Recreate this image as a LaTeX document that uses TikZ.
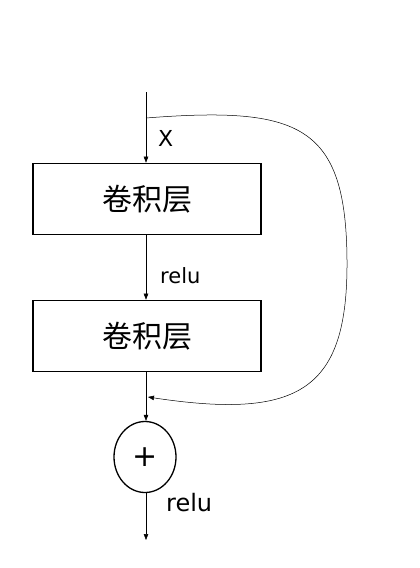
\documentclass[tikz,border=0pt]{standalone}
\usepackage{fontspec}
\setmainfont{DejaVu Sans}
\newfontfamily\cjk{Noto Sans CJK SC}
\usetikzlibrary{arrows.meta,shapes.geometric}
\begin{document}
\begin{tikzpicture}[x=1pt,y=-1pt,
  layer/.style={draw,line width=1.6pt,minimum width=228pt,minimum height=71pt,inner sep=0pt,font=\cjk\fontsize{30}{30}\selectfont},
  addnode/.style={draw,ellipse,line width=1.3pt,minimum width=62pt,minimum height=71pt,inner sep=0pt,font=\fontsize{30}{30}\selectfont},
  conn/.style={line width=0.5pt,-{Triangle[length=6pt,width=4.5pt]}},
  lbl/.style={anchor=west,inner sep=0pt,font=\fontsize{21}{21}\selectfont}]
\useasboundingbox (0,0) rectangle (420,568);
\coordinate (in) at (146,92);
\coordinate (split) at (146,118);
\node[layer] (c1) at (147,199) {卷积层};
\node[layer] (c2) at (147,336) {卷积层};
\coordinate (join) at (146,397);
\node[addnode] (add) at (145,457) {+};
\coordinate (out) at (146,540);
\draw[conn] (in) -- (c1.north -| in);
\draw[conn] (c1.south -| in) -- (c2.north -| in);
\draw[conn] (c2.south -| in) -- (add.north -| in);
\draw[conn] (add.south -| in) -- (out);
\draw[conn] (split) .. controls (300,106) and (346,125) .. (347,260)
  .. controls (348,390) and (300,420) .. ([xshift=2pt]join);
\node[lbl,font=\fontsize{22}{22}\selectfont] (x) at (158,138) {X};
\node[lbl] (r1) at (160,276) {relu};
\node[lbl,font=\fontsize{24}{24}\selectfont] (r2) at (166,503) {relu};
\end{tikzpicture}
\end{document}
